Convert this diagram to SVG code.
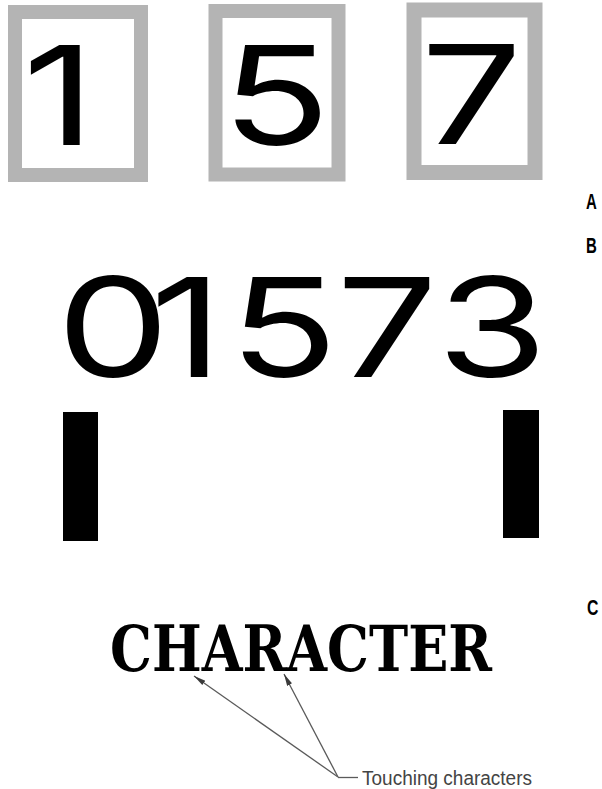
<svg xmlns="http://www.w3.org/2000/svg" width="602" height="789" viewBox="0 0 602 789">
<defs>
<style>
.frame{fill:#ffffff;stroke:#b4b4b4}
.digit{font-family:Inter,"Liberation Sans",sans-serif;font-size:138px;fill:#000;text-anchor:middle}
.lbl{font-family:"Liberation Sans",Arial,sans-serif;font-size:22px;font-weight:bold;fill:#000}
.bar{fill:#000}
.conn{stroke:#5a5a5a;stroke-width:1.3;fill:none}
</style>
<marker id="ah" markerUnits="userSpaceOnUse" markerWidth="14" markerHeight="8" refX="12" refY="4" orient="auto">
<path d="M0,1.3 L12,4 L0,6.7 Z" fill="#3a3a3a"/>
</marker>
</defs>
<rect width="602" height="789" fill="#ffffff"/>

<g id="box1">
<rect class="frame" x="15" y="12" width="126" height="163" stroke-width="14"/>
<text class="digit" transform="translate(59,145) scale(1.3,1)">1</text>
</g>
<g id="box5">
<rect class="frame" x="215.5" y="11" width="123" height="163.5" stroke-width="14"/>
<text class="digit" transform="translate(276,145) scale(1.3,1)">5</text>
</g>
<g id="box7">
<rect class="frame" x="414" y="10" width="121" height="162.5" stroke-width="15"/>
<text class="digit" transform="translate(471.5,144) scale(1.3,1)">7</text>
</g>

<g id="labelA"><text class="lbl" transform="translate(586,209) scale(0.68,1)">A</text></g>
<g id="labelB"><text class="lbl" transform="translate(586,253) scale(0.68,1)">B</text></g>
<g id="labelC"><text class="lbl" transform="translate(587,615) scale(0.72,1)">C</text></g>

<g id="numberline">
<text class="digit" transform="translate(0,377) scale(1.3,1)" x="86.9 143.5 218.1 297.7 378.5">01573</text>
</g>

<g id="bars">
<rect class="bar" x="63" y="412" width="35" height="129"/>
<rect class="bar" x="503" y="410" width="36" height="128"/>
</g>

<g id="character">
<text x="110" y="671" font-family="'DejaVu Serif',serif" font-weight="bold" font-size="64" textLength="382" lengthAdjust="spacingAndGlyphs" fill="#000">CHARACTER</text>
</g>

<g id="connectors">
<line class="conn" x1="338" y1="777" x2="194" y2="676" marker-end="url(#ah)"/>
<line class="conn" x1="338" y1="777" x2="284" y2="674" marker-end="url(#ah)"/>
<line class="conn" x1="338" y1="777.5" x2="358" y2="777.5"/>
</g>

<g id="caption">
<text x="362" y="785" font-family="'Liberation Sans',Arial,sans-serif" font-size="20" textLength="170" lengthAdjust="spacingAndGlyphs" fill="#444">Touching characters</text>
</g>
</svg>
